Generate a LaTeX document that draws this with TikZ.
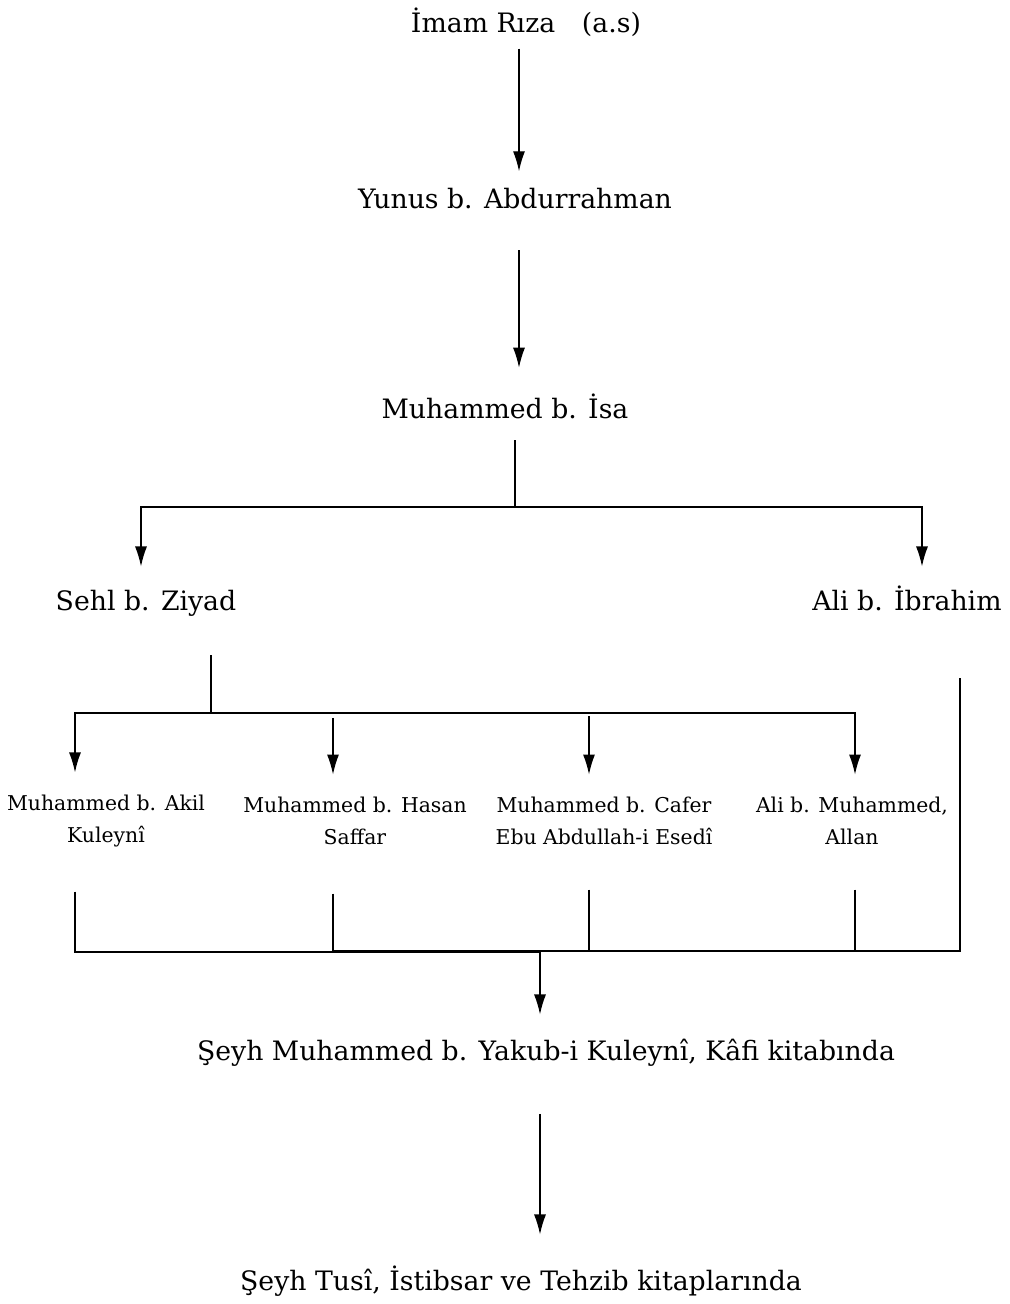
\documentclass[tikz,border=0pt]{standalone}
\usepackage{fontspec}
\setmainfont{DejaVu Serif}
\usetikzlibrary{arrows.meta}

\begin{document}
\begin{tikzpicture}[x=0.025cm, y=-0.025cm, line width=0.9pt,
    lbl/.style={inner sep=0pt, anchor=base, text height=14pt, text depth=4pt, font=\fontsize{19}{23}\selectfont},
    sml/.style={inner sep=0pt, align=center, font=\fontsize{14.5}{22.7}\selectfont},
    arr/.style={-{Latex[length=0.5cm, width=0.3cm]}}]
  \useasboundingbox (0,0) rectangle (1009,1304);

  % names
  \node[lbl] (imam) at (526,32) {İmam Rıza\quad(a.s)};
  \node[lbl] (yunus) at (515,208) {Yunus b. Abdurrahman};
  \node[lbl] (isa) at (505,418) {Muhammed b. İsa};
  \node[lbl] (sehl) at (146,610) {Sehl b. Ziyad};
  \node[lbl] (ali) at (907,610) {Ali b. İbrahim};
  \node[sml] (akil) at (106,821) {Muhammed b. Akil\\Kuleynî};
  \node[sml] (hasan) at (355,821) {Muhammed b. Hasan\\Saffar};
  \node[sml] (cafer) at (604,821) {Muhammed b. Cafer\\Ebu Abdullah-i Esedî};
  \node[sml] (allan) at (852,821) {Ali b. Muhammed,\\Allan};
  \node[lbl] (kuleyni) at (546,1060) {Şeyh Muhammed b. Yakub-i Kuleynî, Kâfi kitabında};
  \node[lbl] (tusi) at (521,1290) {Şeyh Tusî, İstibsar ve Tehzib kitaplarında};

  % junctions and columns
  \coordinate (trunk) at (519,0);
  \coordinate (j1) at (515,507);
  \coordinate (j2) at (211,713);
  \coordinate (j3) at (540,952);
  \coordinate (j4) at (855,951);
  \coordinate (l1) at (141,0);
  \coordinate (r1) at (922,0);
  \coordinate (c1) at (75,0);
  \coordinate (c2) at (333,0);
  \coordinate (c3) at (589,0);
  \coordinate (c4) at (855,0);
  \coordinate (c5) at (960,0);

  \draw[arr, shorten <=0.26cm, shorten >=0.41cm] (imam.south -| trunk) -- (yunus.north -| trunk);
  \draw[arr, shorten <=0.9cm, shorten >=0.75cm] (yunus.south -| trunk) -- (isa.north -| trunk);
  \draw[shorten <=0.4cm] (isa.south -| j1) -- (j1);
  \draw[arr, shorten >=0.58cm] (j1) -| (sehl.north -| l1);
  \draw[arr, shorten >=0.58cm] (j1) -| (ali.north -| r1);

  \draw[shorten <=0.98cm] (sehl.south -| j2) -- (j2);
  \draw[arr, shorten >=0.55cm] (j2) -| (akil.north -| c1);
  \draw[arr, shorten >=0.55cm] (j2) -| (allan.north -| c4);
  \draw[arr, shorten <=0.12cm, shorten >=0.55cm] (c2 |- j2) -- (hasan.north -| c2);
  \draw[arr, shorten <=0.08cm, shorten >=0.55cm] (c3 |- j2) -- (cafer.north -| c3);

  \draw[shorten <=1.55cm] (ali.south -| c5) |- (j4);
  \draw[shorten <=1.1cm] (akil.south -| c1) |- (j3);
  \draw[shorten <=1.2cm] (hasan.south -| c2) |- (j4);
  \draw[shorten <=1.1cm] (cafer.south -| c3) -- (c3 |- j4);
  \draw[shorten <=1.1cm] (allan.south -| c4) -- (j4);

  \draw[arr, shorten >=0.63cm] (j3) -- (kuleyni.north -| j3);
  \draw[arr, shorten <=1.19cm, shorten >=0.88cm] (kuleyni.south -| j3) -- (tusi.north -| j3);
\end{tikzpicture}
\end{document}
